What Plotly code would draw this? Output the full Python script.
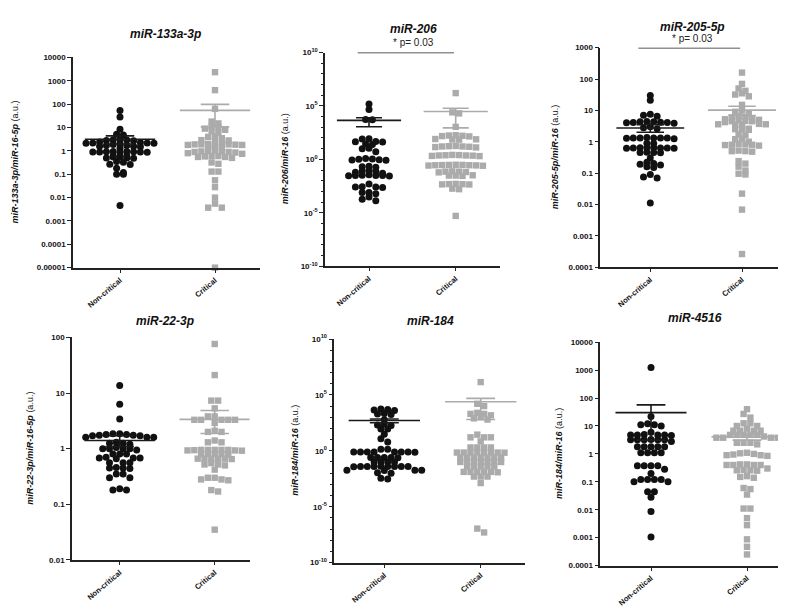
import numpy as np
import plotly.graph_objects as go

categories = ["Non-critical", "Critical"]
titles = ["miR-133a-3p", "miR-206", "miR-205-5p", "miR-22-3p", "miR-184", "miR-4516"]
ytitles = ["miR-133a-3p/miR-16-5p", "miR-206/miR-16", "miR-205-5p/miR-16",
           "miR-22-3p/miR-16-5p", "miR-184/miR-16", "miR-184/miR-16"]
p_labels = [None, "* p= 0.03", "* p= 0.03", None, None, None]

# ---------------- data ----------------
mir133_nc = [54, 28, 8.5, 4.8, 5.2, 3.0, 2.8, 2.9, 3.1, 2.7, 2.2, 2.1, 2.0, 2.3, 2.2, 2.1, 1.9, 2.4,
             1.6, 1.7, 1.5, 1.6, 1.7, 1.3, 0.95, 0.9, 0.92, 0.88, 0.95, 0.9, 0.85, 0.93, 0.9,
             0.6, 0.55, 0.5, 0.6, 0.48, 0.55, 0.5, 0.33, 0.35, 0.27, 0.26, 0.18, 0.12, 0.1, 0.1, 0.0046]
mir133_c = [2350, 400, 63, 18, 15, 11, 9, 8, 7, 6, 10, 4, 4.2, 3.5, 2.8, 2.6, 2.9, 2.0, 1.9, 1.8,
            1.85, 1.9, 2.0, 1.8, 1.7, 1.9, 1.5, 1.4, 1.05, 0.95, 0.9, 0.8, 0.85, 0.75, 0.9, 1.0,
            0.95, 0.6, 0.55, 0.55, 0.5, 0.6, 0.58, 0.32, 0.28, 0.13, 0.13, 0.055, 0.028, 0.01,
            0.0055, 0.0037, 0.0037, 0.00001]
mir206_nc = [1.5e5, 4.6e4, 5.5e3, 5.0e3, 80, 85, 45, 42, 48, 28, 25, 10, 11, 5,
             0.8, 1.0, 0.9, 1.1, 0.85, 1.2, 0.2, 0.22, 0.18, 0.08, 0.075, 0.09, 0.063,
             0.03, 0.028, 0.03, 0.032, 0.035, 0.03, 0.029, 0.05,
             0.0025, 0.0023, 0.0027, 0.0026, 0.005, 0.0008, 0.0008, 0.0006, 0.0003, 0.00018, 0.00013]
mir206_c = [1.6e6, 2.0e4, 2.5e4, 1100, 160, 150, 180, 140, 170, 75, 70, 80, 72,
            16, 15, 17, 14, 18, 16, 13, 2.3, 2.1, 2.5, 2.4, 2.2, 2.6, 2.3, 2.0,
            0.28, 0.3, 0.26, 0.27, 0.29, 0.31, 0.25, 0.28, 0.3, 0.07, 0.065, 0.075, 0.07, 0.06,
            0.03, 0.028, 0.032, 0.03, 0.0047, 0.0045, 0.005, 0.0048, 0.0044, 0.0016, 0.0018, 0.000005]
mir205_nc = [30, 21, 7.5, 6.5, 7.0, 4.3, 4.1, 4.0, 4.4, 4.2, 3.9, 4.3, 4.1, 2.8, 2.6, 3.0,
             1.3, 1.3, 1.25, 1.35, 1.3, 1.28, 1.32, 1.3, 0.9, 0.88, 0.63, 0.62, 0.64, 0.63,
             0.65, 0.62, 0.63, 0.64, 0.45, 0.46, 0.44, 0.45, 0.3, 0.2, 0.18, 0.15, 0.16, 0.19,
             0.22, 0.075, 0.07, 0.09, 0.011]
mir205_c = [160, 70, 50, 42, 32, 28, 35, 15, 10, 9, 8, 6.5, 5.0, 5.5, 4.5, 4.8, 5.2, 6.0, 6.2,
            3.6, 3.5, 3.6, 4.5, 4.6, 4.2, 3.7, 3.5, 2.5, 2.4, 2.6, 2.5, 1.6, 1.7, 1.25, 1.2,
            0.8, 0.82, 0.78, 0.8, 0.75, 0.85, 1.0, 0.5, 0.48, 0.52, 0.5, 0.16, 0.2, 0.24,
            0.095, 0.09, 0.12, 0.022, 0.0068, 0.00026]
mir22_nc = [13.6, 6.3, 3.4, 1.85, 1.8, 1.7, 1.75, 1.8, 1.7, 1.75, 1.85, 1.6, 1.6, 1.6,
            1.25, 1.25, 1.2, 1.3, 1.0, 1.0, 0.95, 1.05, 1.0, 1.0, 0.8, 0.8, 0.8,
            0.68, 0.68, 0.7, 0.66, 0.68, 0.56, 0.56, 0.56, 0.45, 0.45, 0.44, 0.46,
            0.35, 0.35, 0.3, 0.3, 0.19, 0.18, 0.18]
mir22_c = [76, 21, 7.3, 7.3, 5.3, 3.8, 3.8, 3.3, 3.3, 3.3, 3.3, 3.3, 2.9, 2.0, 2.1, 2.0,
           1.3, 1.3, 1.4, 0.95, 0.95, 0.93, 0.92, 0.95, 0.93, 0.95, 0.94, 0.95,
           0.8, 0.8, 0.78, 0.8, 0.8, 0.66, 0.66, 0.65, 0.66, 0.66, 0.66,
           0.52, 0.5, 0.52, 0.55, 0.42, 0.3, 0.28, 0.27, 0.28, 0.3, 0.18, 0.17, 0.035]
mir184_nc = [5500, 4000, 4500, 5000, 2000, 1800, 2200, 600, 200, 250, 180, 90, 90, 30, 12, 6,
             1.35, 1.4, 0.8, 0.8, 0.75, 0.8, 0.8, 0.78, 0.8, 0.8, 0.25, 0.25, 0.24, 0.25, 0.25,
             0.1, 0.1, 0.1, 0.1, 0.04, 0.04, 0.038, 0.04, 0.04, 0.04, 0.04, 0.04, 0.042,
             0.018, 0.018, 0.017, 0.018, 0.01, 0.011, 0.003, 0.0035]
mir184_c = [1.4e6, 1.6e4, 1.0e4, 2000, 2000, 1500, 2500, 800, 1000, 630, 28, 16, 16, 16, 7,
            2, 2, 2, 2, 0.7, 0.7, 0.7, 0.68, 0.7, 0.7, 0.72, 0.7, 0.25, 0.25, 0.25, 0.25,
            0.25, 0.25, 0.25, 0.1, 0.1, 0.1, 0.1, 0.1, 0.1, 0.1, 0.04, 0.04, 0.04, 0.04, 0.04,
            0.013, 0.013, 0.013, 0.012, 0.013, 0.013, 0.005, 0.005, 0.005, 0.0013, 5e-8, 1.1e-7]
mir4516_nc = [1250, 22, 11, 11, 10, 12, 6, 4.8, 4.8, 4.8, 5.0, 4.8, 4.6, 3.2, 3.2, 3.2, 3.3,
              3.2, 3.2, 2.8, 1.8, 1.8, 1.8, 1.8, 1.8, 1.1, 1.1, 1.1, 1.1,
              0.38, 0.38, 0.38, 0.38, 0.28, 0.2, 0.12, 0.12, 0.12, 0.12, 0.1, 0.1,
              0.044, 0.044, 0.028, 0.0087, 0.00105]
mir4516_c = [40, 27, 20, 12.5, 12.5, 10, 10, 8, 6.8, 6.8, 6.8, 6.8, 4.8, 4.8, 4.8, 4.8, 4.8, 4.2,
             3.8, 3.8, 3.8, 3.8, 2.5, 2.5, 2.5, 2.2, 1.0, 0.9, 0.85, 1.1, 0.9, 0.95, 1.05,
             0.4, 0.4, 0.4, 0.4, 0.42, 0.42, 0.25, 0.27, 0.26, 0.26, 0.3, 0.15, 0.14, 0.16,
             0.055, 0.06, 0.035, 0.011, 0.011, 0.005, 0.0028, 0.00087, 0.00047, 0.00025]

nc_series = [mir133_nc, mir206_nc, mir205_nc, mir22_nc, mir184_nc, mir4516_nc]
c_series = [mir133_c, mir206_c, mir205_c, mir22_c, mir184_c, mir4516_c]

dec_ticks = ["0.00001", "0.0001", "0.001", "0.01", "0.1", "1", "10", "100", "1000", "10000"]
pow_ticks = ["10<sup>-10</sup>", "10<sup>-5</sup>", "10<sup>0</sup>", "10<sup>5</sup>", "10<sup>10</sup>"]

# ---------------- layout geometry (pixels) ----------------
W, H = 786, 609
panels = [
    dict(x0=65, x1=252, c0=112, c1=207, yt=44.3, yb=258.3, lmin=-5, lmax=4, tx=157, ty=20, ax=7, py=0),
    dict(x0=317, x1=492, c0=361, c1=447.7, yt=39.3, yb=256.7, lmin=-10, lmax=10, tx=405, ty=15, ax=277, py=29),
    dict(x0=592.3, x1=780.7, c0=642.3, c1=734, yt=34.3, yb=257.7, lmin=-4, lmax=3, tx=684, ty=13, ax=547, py=25),
    dict(x0=64, x1=241.7, c0=111.7, c1=206.7, yt=329.3, yb=556, lmin=-2, lmax=2, tx=157, ty=313, ax=22, py=0),
    dict(x0=326.3, x1=517, c0=376.3, c1=472.7, yt=331, yb=558.7, lmin=-10, lmax=10, tx=422, ty=313, ax=287, py=0),
    dict(x0=592.3, x1=780.7, c0=643, c1=739, yt=334.3, yb=561.7, lmin=-4, lmax=4, tx=687, ty=310, ax=551, py=0),
]

BLACK = "#111111"
GREY = "#ababab"
FONT = "Liberation Sans, Arial, sans-serif"


def rows_layout(vals, lmin, lmax, hpx, d, bh):
    """Prism-like scatter: bin points into horizontal rows and centre each row."""
    ys = (np.log10(np.asarray(vals, float)) - lmin) / (lmax - lmin) * hpx
    order = np.argsort(-ys, kind="stable")
    xs = np.zeros(len(ys))
    groups = []
    cur = []
    start = None
    for i in order:
        if start is None or start - ys[i] > bh:
            if cur:
                groups.append(cur)
            cur = [i]
            start = ys[i]
        else:
            cur.append(i)
    if cur:
        groups.append(cur)
    for g in groups:
        m = len(g)
        pos = [(j - (m - 1) / 2) * d for j in range(m)]
        seq = sorted(range(m), key=lambda j: abs(pos[j]) + 0.001 * pos[j])
        for idx, j in zip(g, seq):
            xs[idx] = pos[j]
    return xs


fig = go.Figure()
annotations = []
layout_axes = {}

for k, p in enumerate(panels):
    n = k + 1
    xa = "x" if n == 1 else f"x{n}"
    ya = "y" if n == 1 else f"y{n}"
    unit = p["c1"] - p["c0"]
    hpx = p["yb"] - p["yt"]
    xr = [(p["x0"] - p["c0"]) / unit, (p["x1"] - p["c0"]) / unit]

    for gi, (vals, col, sym, size) in enumerate([(nc_series[k], BLACK, "circle", 7.0),
                                                   (c_series[k], GREY, "square", 6.4)]):
        offs = rows_layout(vals, p["lmin"], p["lmax"], hpx, 6.8, 4.2) / unit
        fig.add_trace(go.Scatter(
            x=gi + offs, y=vals, mode="markers", xaxis=xa, yaxis=ya,
            marker=dict(symbol=sym, size=size, color=col, line=dict(width=0)),
            cliponaxis=False, showlegend=False, hoverinfo="skip"))

    for gi, (vals, col) in enumerate([(nc_series[k], "#1a1a1a"), (c_series[k], GREY)]):
        v = np.asarray(vals, float)
        m = v.mean()
        sem = v.std(ddof=1) / np.sqrt(len(v))
        up, lo = m + sem, max(m - sem, 10 ** p["lmin"])
        hw, cw = 0.37, 0.15
        fig.add_trace(go.Scatter(
            x=[gi - hw, gi + hw, None, gi - cw, gi + cw, None, gi - cw, gi + cw, None, gi, gi],
            y=[m, m, None, up, up, None, lo, lo, None, lo, up],
            mode="lines", line=dict(color=col, width=1.6), xaxis=xa, yaxis=ya,
            cliponaxis=False, showlegend=False, hoverinfo="skip"))

    if p_labels[k]:
        top = 10 ** p["lmax"]
        fig.add_trace(go.Scatter(x=[-0.13, 0.98], y=[top, top], mode="lines",
                                 line=dict(color="#222", width=1.4), xaxis=xa, yaxis=ya,
                                 cliponaxis=False, showlegend=False, hoverinfo="skip"))
        annotations.append(dict(text=p_labels[k], x=p["tx"] / W, y=1 - p["py"] / H,
                                xref="paper", yref="paper", showarrow=False, borderpad=0,
                                font=dict(family=FONT, size=10, color="#222"),
                                xanchor="center", yanchor="middle"))

    if p["lmax"] == 10:
        tv = [10.0 ** e for e in (-10, -5, 0, 5, 10)]
        tt = pow_ticks
        minor = dict(tickvals=[10.0 ** e for e in range(-10, 11)], ticks="outside",
                     ticklen=2.5, tickwidth=1, tickcolor="#222")
    else:
        tv = [10.0 ** e for e in range(p["lmin"], p["lmax"] + 1)]
        tt = dec_ticks[p["lmin"] + 5: p["lmax"] + 6]
        minor = None

    xkey = "xaxis" if n == 1 else f"xaxis{n}"
    ykey = "yaxis" if n == 1 else f"yaxis{n}"
    layout_axes[xkey] = dict(
        domain=[p["x0"] / W, p["x1"] / W], range=xr, anchor=ya,
        tickvals=[0, 1], ticktext=categories, tickangle=-40,
        tickfont=dict(family=FONT, size=7.6, color="#111", weight="bold"),
        showline=True, linecolor="#222", linewidth=1.5, ticks="outside", ticklen=3.5,
        tickcolor="#222", tickwidth=1.2, showgrid=False, zeroline=False, fixedrange=True)
    yd = dict(
        domain=[1 - p["yb"] / H, 1 - p["yt"] / H], type="log", range=[p["lmin"], p["lmax"]],
        anchor=xa, tickvals=tv, ticktext=tt,
        tickfont=dict(family=FONT, size=8, color="#111", weight="bold"),
        showline=True, linecolor="#222", linewidth=1.5, ticks="outside", ticklen=4,
        tickcolor="#222", tickwidth=1.2, showgrid=False, zeroline=False, fixedrange=True)
    if minor:
        yd["minor"] = minor
    layout_axes[ykey] = yd

    annotations.append(dict(text=f"<b><i>{titles[k]}</i></b>", x=p["tx"] / W, y=1 - p["ty"] / H,
                            xref="paper", yref="paper", showarrow=False, borderpad=0,
                            font=dict(family=FONT, size=12, color="#111"),
                            xanchor="center", yanchor="middle"))
    annotations.append(dict(text=f"<b><i>{ytitles[k]}</i></b> (a.u.)", x=p["ax"] / W,
                            y=1 - (p["yt"] + p["yb"]) / 2 / H, xref="paper", yref="paper",
                            showarrow=False, textangle=-90,
                            font=dict(family=FONT, size=9, color="#111"),
                            xanchor="center", yanchor="middle"))

fig.update_layout(width=W, height=H, margin=dict(l=0, r=0, t=0, b=0),
                  paper_bgcolor="white", plot_bgcolor="white",
                  annotations=annotations, showlegend=False, **layout_axes)

fig.write_html("out.html")
